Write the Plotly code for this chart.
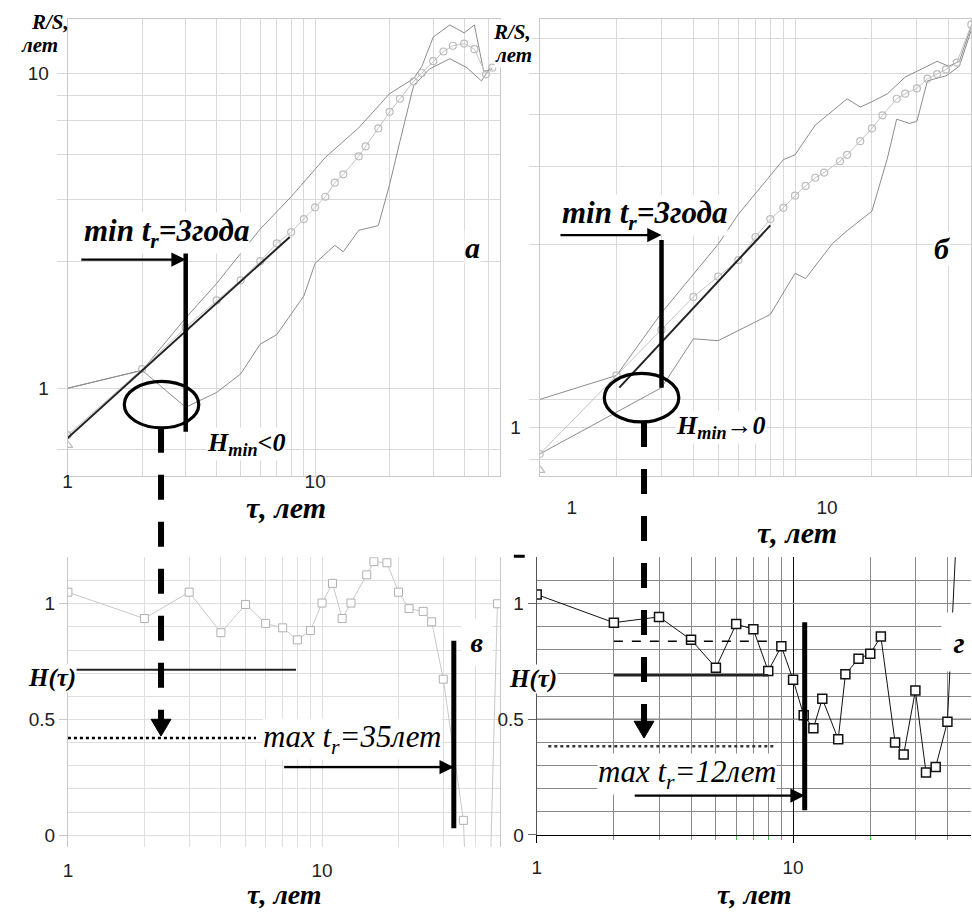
import numpy as np
import plotly.graph_objects as go

W, H = 972, 918
SERIF = "Liberation Serif, 'Times New Roman', 'DejaVu Serif', serif"
SANS = "Liberation Sans, Arial, sans-serif"

# ---------------- data ----------------
# panel а : R/S(τ), mean curve (open circles) and the two bounding curves
a_tau = [1, 2, 3, 4, 5, 6, 7, 8, 9, 10, 11, 12, 13, 15, 16, 18, 20, 22, 25, 27, 30, 33, 36, 40, 44, 49, 52]
a_rs = [0.71, 1.15, 1.56, 1.9, 2.2, 2.53, 2.88, 3.13, 3.44, 3.75, 4.05, 4.49, 4.77, 5.44, 5.85, 6.67, 7.53, 8.28,
        9.4, 10.0, 10.9, 11.7, 12.2, 12.4, 11.9, 9.9, 10.4]
a_up_tau = [1, 2, 3, 4, 6, 8, 11, 15, 20, 25, 27, 30, 35, 40, 44, 48, 52]
a_up = [1.0, 1.14, 1.67, 2.15, 3.2, 4.05, 5.4, 6.7, 8.6, 9.6, 10.5, 13.0, 14.2, 13.4, 14.2, 10.1, 10.3]
a_lo_tau = [1, 2, 3, 4, 5, 6, 7, 9, 10, 12, 13, 15, 18, 20, 22, 25, 29, 35, 41, 47, 51]
a_lo = [1.0, 1.14, 0.87, 0.97, 1.11, 1.38, 1.48, 1.96, 2.49, 2.84, 2.71, 3.17, 3.28, 4.43, 6.06, 9.12, 10.3, 11.1,
        10.4, 9.44, 10.4]
a_tri_tau, a_tri = [1], [0.66]
a_fit_tau, a_fit = [1, 7.9], [0.695, 3.02]
a_min_tr, a_bar = 3, [0.728, 2.71]
a_arrow_tau, a_arrow_y = [1.12, 3], 2.56

# panel б
b_tau = [1, 2, 3, 4, 5, 6, 7, 8, 9, 10, 11, 12, 13, 15, 16, 18, 20, 22, 25, 27, 30, 33, 36, 39, 43, 49]
b_rs = [0.85, 1.38, 1.83, 2.24, 2.54, 2.81, 3.24, 3.62, 3.88, 4.18, 4.44, 4.67, 4.82, 5.17, 5.38, 5.85, 6.33,
        6.86, 7.6, 7.84, 8.1, 8.6, 8.85, 9.1, 9.5, 12.0]
b_up_tau = [1, 2, 3, 5, 6, 9, 10, 12, 16, 18, 20, 23, 27, 36, 40, 44, 49]
b_up = [1.19, 1.38, 2.03, 3.1, 3.73, 5.22, 5.38, 6.46, 7.6, 7.22, 7.46, 7.84, 8.69, 9.57, 9.29, 9.57, 11.9]
b_lo_tau = [1, 3, 4, 5, 8, 9, 10, 11, 14, 16, 20, 23, 25, 28, 30, 33, 39, 44, 49]
b_lo = [0.85, 1.28, 1.73, 1.71, 2.01, 2.29, 2.59, 2.51, 3.11, 3.37, 3.8, 5.27, 6.7, 6.53, 6.61, 8.49, 8.75,
        9.29, 11.6]
b_tri_tau, b_tri = [1], [0.77]
b_fit_tau, b_fit = [2.05, 8.0], [1.28, 3.48]
b_min_tr, b_bar = 3, [1.28, 3.18]
b_arrow_tau, b_arrow_y = [1.19, 3], 3.28

# panel в : H(τ)
v_tau = [1, 2, 3, 4, 5, 6, 7, 8, 9, 10, 11, 12, 13, 15, 16, 18, 20, 22, 25, 27, 30, 36, 40, 44, 49]
v_h = [1.05, 0.936, 1.05, 0.875, 0.997, 0.915, 0.896, 0.844, 0.884, 1.003, 1.088, 0.936, 1.003, 1.125, 1.182,
       1.177, 1.05, 0.979, 0.967, 0.922, 0.674, 0.064, -1.2, -0.9, 1.0]
v_hfit_tau, v_hfit = [1, 7.9], 0.715
v_hdot_tau, v_hdot = [1, 5.5], 0.42
v_max_tr, v_bar = 33, [0.03, 0.84]
v_arrow_tau, v_arrow_y = [7, 33], 0.294

# panel г
g_tau = [1, 2, 3, 4, 5, 6, 7, 8, 9, 10, 11, 12, 13, 15, 16, 18, 20, 22, 25, 27, 30, 33, 36, 40, 44]
g_h = [1.04, 0.918, 0.943, 0.844, 0.723, 0.912, 0.889, 0.709, 0.816, 0.671, 0.518, 0.461, 0.589, 0.414, 0.695,
       0.762, 0.784, 0.858, 0.40, 0.348, 0.624, 0.27, 0.294, 0.489, 1.45]
g_hdash_tau, g_hdash = [2, 8], 0.838
g_hfit_tau, g_hfit = [2, 8], 0.69
g_hdot_tau, g_hdot = [1.11, 8.4], 0.383
g_max_tr, g_bar = 11.1, [0.106, 0.92]
g_arrow_tau, g_arrow_y = [2.38, 11.1], 0.17

# grid positions / tick labels
minor_x = [2, 3, 4, 5, 6, 7, 8, 9, 20, 30, 40, 50]
a_grid_y = [0.64, 2.52, 3.97, 5.53, 7.07, 8.5]
b_grid_y = [0.82, 1.19, 3.1, 5.0, 6.9, 8.9, 11.0]
h_major = [0, 0.5, 1]
h_minor = [0.1, 0.2, 0.3, 0.4, 0.6, 0.7, 0.8, 0.9, 1.1, 1.2]


def PX(p):
    return p / W


def PY(p):
    return 1 - p / H


GRID = "#d9d9d9"
FRAME = "#c8c8c8"
BOUND = "#8c8c8c"
MEAN = "#c4c4c4"
GGRID = "#8a8a8a"

fig = go.Figure()


def line(x, y, xa, ya, color, width, dash=None, mode="lines", marker=None):
    fig.add_trace(go.Scatter(x=x, y=y, mode=mode, xaxis=xa, yaxis=ya,
                             line=dict(color=color, width=width, dash=dash),
                             marker=marker, hoverinfo="skip", showlegend=False))


# ---- panel а ----
line(a_up_tau, a_up, "x", "y", BOUND, 1)
line(a_lo_tau, a_lo, "x", "y", BOUND, 1)
line(a_tau, a_rs, "x", "y", MEAN, 1, mode="lines+markers",
     marker=dict(symbol="circle-open", size=7, color="#bcbcbc", line=dict(width=1.2)))
line(a_tri_tau, a_tri, "x", "y", MEAN, 1, mode="markers",
     marker=dict(symbol="triangle-up-open", size=9, color="#bcbcbc", line=dict(width=1.2)))
line(a_fit_tau, a_fit, "x", "y", "#222", 2)
line([a_min_tr, a_min_tr], a_bar, "x", "y", "black", 4.5)

# ---- panel б ----
line(b_up_tau, b_up, "x2", "y2", BOUND, 1)
line(b_lo_tau, b_lo, "x2", "y2", BOUND, 1)
line(b_tau, b_rs, "x2", "y2", MEAN, 1, mode="lines+markers",
     marker=dict(symbol="circle-open", size=7, color="#bcbcbc", line=dict(width=1.2)))
line(b_tri_tau, b_tri, "x2", "y2", MEAN, 1, mode="markers",
     marker=dict(symbol="triangle-up-open", size=9, color="#bcbcbc", line=dict(width=1.2)))
line(b_fit_tau, b_fit, "x2", "y2", "#222", 2)
line([b_min_tr, b_min_tr], b_bar, "x2", "y2", "black", 4.5)

# ---- panel в ----
line(v_tau, v_h, "x3", "y3", "#c8c8c8", 1, mode="lines+markers",
     marker=dict(symbol="square", size=8, color="white", line=dict(width=1, color="#b0b0b0")))
line(v_hfit_tau, [v_hfit, v_hfit], "x3", "y3", "#222", 2)
line(v_hdot_tau, [v_hdot, v_hdot], "x3", "y3", "black", 2.5, dash="dot")
line([v_max_tr, v_max_tr], v_bar, "x3", "y3", "black", 5)

# ---- panel г ----
line(g_tau, g_h, "x4", "y4", "#111", 1, mode="lines+markers",
     marker=dict(symbol="square", size=9, color="white", line=dict(width=1.5, color="#111")))
line(g_hdash_tau, [g_hdash, g_hdash], "x4", "y4", "black", 1.5, dash="dash")
line(g_hfit_tau, [g_hfit, g_hfit], "x4", "y4", "#222", 2.5)
line(g_hdot_tau, [g_hdot, g_hdot], "x4", "y4", "#333", 2.5, dash="dot")
line([g_max_tr, g_max_tr], g_bar, "x4", "y4", "black", 5)

TICKF = dict(family=SANS, size=19, color="#222")


def log_x(domain, rng, anchor, grid, shift=0, standoff=0, show_line=True, mirror=True, linecolor=FRAME,
          major_grid=None, minor_ticks="", minor_tickcolor=None, major_ticks="", gridwidth=1):
    d = dict(type="log", domain=domain, range=rng, anchor=anchor,
             tickvals=[1, 10], ticktext=["1", "10"], ticks=major_ticks, ticklen=7, tickcolor="black",
             showgrid=True, gridcolor=major_grid or grid, gridwidth=gridwidth,
             minor=dict(tickvals=minor_x, showgrid=True, gridcolor=grid, gridwidth=gridwidth,
                        ticks=minor_ticks, ticklen=4, tickcolor=minor_tickcolor or grid),
             showline=show_line, linecolor=linecolor, linewidth=1, mirror=mirror, zeroline=False,
             tickfont=TICKF, ticklabelshift=shift, ticklabelstandoff=standoff, fixedrange=True)
    return d


top_dom = [PY(482), PY(19)]
fig.update_layout(
    width=W, height=H, margin=dict(l=0, r=0, t=0, b=0),
    paper_bgcolor="white", plot_bgcolor="white", showlegend=False,
    xaxis=log_x([PX(63), PX(498)], [0, np.log10(55.8)], "y", GRID, standoff=-12),
    yaxis=dict(type="log", domain=top_dom, range=[np.log10(0.526), 1.172], anchor="x",
               tickvals=[1, 10], ticktext=["1", "10"], ticks="outside", ticklen=10, tickcolor=GRID,
               showgrid=True, gridcolor=GRID,
               minor=dict(tickvals=a_grid_y, showgrid=True, gridcolor=GRID, ticks="outside",
                          ticklen=10, tickcolor=GRID),
               showline=True, linecolor=FRAME, mirror=True, zeroline=False, tickfont=TICKF,
               ticklabelstandoff=4),
    xaxis2=log_x([PX(538), 1.0], [0, 1.689], "y2", GRID, shift=32, standoff=14),
    yaxis2=dict(type="log", domain=top_dom, range=[-0.130, 1.095], anchor="x2",
                tickvals=[1], ticktext=["1"], ticks="outside", ticklen=10, tickcolor=GRID,
                showgrid=True, gridcolor=GRID,
                minor=dict(tickvals=b_grid_y, showgrid=True, gridcolor=GRID, ticks="outside",
                           ticklen=10, tickcolor=GRID),
                showline=True, linecolor=FRAME, mirror=True, zeroline=False, tickfont=TICKF,
                ticklabelstandoff=4),
    xaxis3=log_x([PX(63.3), PX(498)], [0, 1.70], "y3", "#dedede", show_line=False, mirror=False,
                 standoff=10),
    yaxis3=dict(domain=[PY(857), PY(564)], range=[-0.05, 1.201], anchor="x3",
                tickvals=h_major, ticktext=["0", "0.5", "1"], ticks="outside", ticklen=8, tickcolor=FRAME,
                showgrid=True, gridcolor="#dedede",
                minor=dict(tickvals=h_minor, showgrid=True, gridcolor="#dedede"),
                showline=True, linecolor=FRAME, mirror=True, zeroline=False, tickfont=TICKF),
    xaxis4=log_x([PX(535), 1.0], [0, 1.694], "y4", GGRID, show_line=True, mirror=False,
                 linecolor="black", major_grid="#111", minor_ticks="outside", minor_tickcolor="#44bb44",
                 major_ticks="outside", standoff=8, gridwidth=1.3),
    yaxis4=dict(domain=[PY(845), PY(564)], range=[0, 1.201], anchor="x4",
                tickvals=h_major, ticktext=["0", "0.5", "1"], ticks="outside", ticklen=8, tickcolor="#666",
                showgrid=True, gridcolor=GGRID, gridwidth=1.3,
                minor=dict(tickvals=h_minor, showgrid=True, gridcolor=GGRID, gridwidth=1.3),
                showline=True, linecolor="#555", zeroline=False, tickfont=TICKF),
)
for ax in ["xaxis", "xaxis2", "xaxis3", "xaxis4", "yaxis", "yaxis2", "yaxis3", "yaxis4"]:
    fig.layout[ax].fixedrange = True

# ---------------- shapes ----------------
shapes = []
# г: darker reference line (y = 0.5)
shapes.append(dict(type="line", xref="x4 domain", yref="y4", x0=0, x1=1, y0=0.5, y1=0.5,
                   line=dict(color="#111", width=1.3), layer="below"))
# ellipses
for (x0, x1, y0, y1) in [(120, 195, 386, 433), (603, 678, 378, 427)]:
    shapes.append(dict(type="circle", xref="paper", yref="paper", x0=PX(x0), x1=PX(x1), y0=PY(y1), y1=PY(y0),
                       line=dict(color="black", width=3.2)))
# dashed connectors from the ellipses to the H(τ) panels
for (xc, ys, ye) in [(157, 433, 729), (643, 427, 731)]:
    shapes.append(dict(type="line", xref="paper", yref="paper", x0=PX(xc), x1=PX(xc), y0=PY(ys), y1=PY(ye),
                       line=dict(color="black", width=6, dash="25px,22px")))
    shapes.append(dict(type="path", xref="paper", yref="paper",
                       path=f"M {PX(xc - 10)},{PY(ye - 1)} L {PX(xc + 10)},{PY(ye - 1)} L {PX(xc)},{PY(ye + 16)} Z",
                       fillcolor="black", line=dict(color="black", width=1)))
# small dash at top-left of г
shapes.append(dict(type="line", xref="paper", yref="paper", x0=PX(512), x1=PX(523), y0=PY(563), y1=PY(563),
                   line=dict(color="black", width=3)))
fig.update_layout(shapes=shapes)

# ---------------- annotations ----------------
ann = []


def text(t, x, y, size, bold=True, italic=True, bg=None, family=SERIF, **kw):
    s = t
    if italic:
        s = f"<i>{s}</i>"
    if bold:
        s = f"<b>{s}</b>"
    d = dict(text=s, x=PX(x), y=PY(y), xref="paper", yref="paper", showarrow=False,
             font=dict(family=family, size=size, color="black"), xanchor="center", yanchor="middle")
    if bg:
        d.update(bgcolor=bg, borderpad=0)
    d.update(kw)
    ann.append(d)


# axis names
text("R/S,", 45, 22, 21)
text("лет", 35, 46, 21)
text("R/S,", 510, 32, 21, bg="white")
text("лет", 512, 56, 21, bg="white")
text("τ, лет", 283, 514, 30)
text("τ, лет", 797, 539, 30)
text("τ, лет", 281, 905, 28)
text("τ, лет", 754, 905, 28)
text("H(τ)", 47, 686, 25, bg="white")
text("H(τ)", 531, 687, 25, bg="white")
# panel letters
text("а", 470, 250, 30, bg="white")
text("б", 943, 252, 30, bg="white")
text("в", 475, 650, 28, bg="white", width=30, height=46)
text("г", 960, 650, 30, bg="white", width=34, height=58)
# annotations
text("min t<sub>r</sub>=3года", 162, 236, 31, bg="white")
text("min t<sub>r</sub>=3года", 643, 218, 31, bg="white")
text("H<sub>min</sub><0", 242, 449, 26, bg="white")
text("H<sub>min</sub>→0", 720, 432, 26, bg="white")
text("max t<sub>r</sub>=35лет", 349, 748, 31, bold=False, bg="white")
text("max t<sub>r</sub>=12лет", 686, 783, 31, bold=False, bg="white")


def arrow(xa, ya, xs, y, logy):
    yy = np.log10(y) if logy else y
    ann.append(dict(text="", xref=xa, yref=ya, axref=xa, ayref=ya,
                    x=np.log10(xs[1]), y=yy, ax=np.log10(xs[0]), ay=yy,
                    showarrow=True, arrowhead=2, arrowsize=1.3, arrowwidth=2.2, arrowcolor="black",
                    standoff=0))


arrow("x", "y", a_arrow_tau, a_arrow_y, True)
arrow("x2", "y2", b_arrow_tau, b_arrow_y, True)
arrow("x3", "y3", v_arrow_tau, v_arrow_y, False)
arrow("x4", "y4", g_arrow_tau, g_arrow_y, False)

fig.update_layout(annotations=ann)

fig.write_html("out.html")
